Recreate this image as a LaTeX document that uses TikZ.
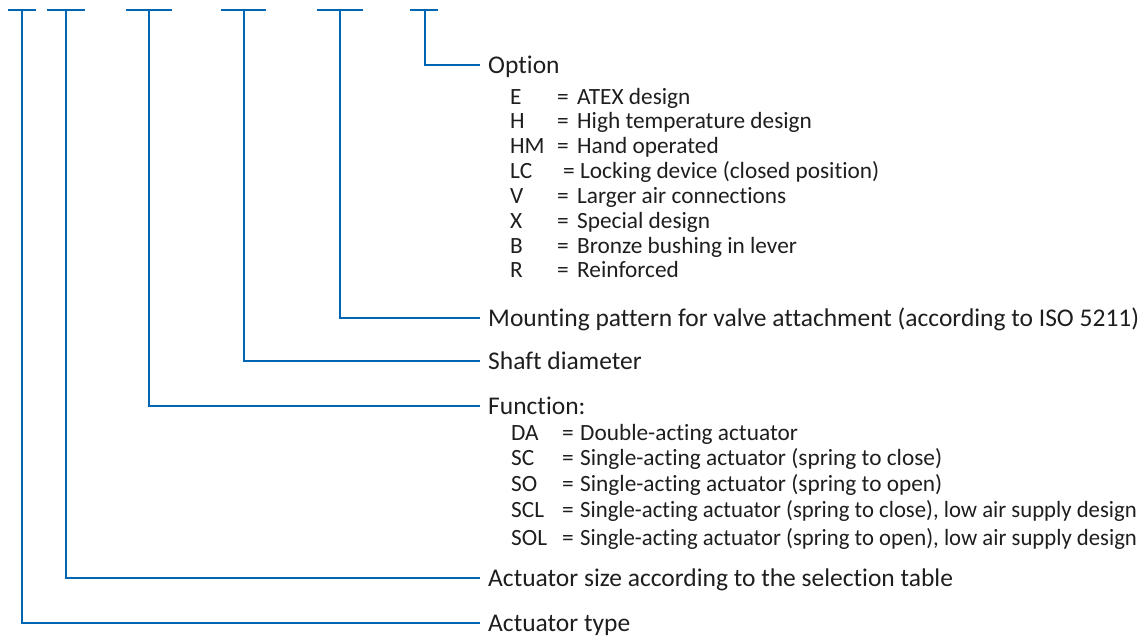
\documentclass[tikz,border=0pt]{standalone}
\usepackage{fontspec}
\usepackage{graphicx}
\setmainfont{Carlito}[Ligatures={NoCommon}]
\definecolor{lineblue}{HTML}{0066B3}
\definecolor{txtgray}{HTML}{1E1E1E}
\tikzset{
  conn/.style={lineblue,line width=2pt},
  topbar/.style={lineblue,line width=2pt},
  lbl/.style={anchor=west,inner sep=0pt,text=txtgray,text height=16.4pt,text depth=0pt,font=\fontsize{25.5}{25.5}\selectfont},
  itm/.style={anchor=west,inner sep=0pt,text=txtgray,text height=15pt,text depth=0pt,font=\fontsize{23.3}{23.3}\selectfont},
}
\newcommand{\optrow}[2]{\makebox[47pt][l]{#1}\makebox[20pt][l]{=}#2}
\newcommand{\optrowlc}[2]{\makebox[53pt][l]{#1}\makebox[17pt][l]{=}#2}
\newcommand{\funrow}[2]{\makebox[51pt][l]{#1}\makebox[18pt][l]{=}#2}
\begin{document}
\begin{tikzpicture}[x=1pt,y=-1pt]
\useasboundingbox (0,0) rectangle (1139,637);
% top bars
\draw[topbar] (8,10) -- (36,10);
\draw[topbar] (47,10) -- (85,10);
\draw[topbar] (126,10) -- (172,10);
\draw[topbar] (221,10) -- (266,10);
\draw[topbar] (317,10) -- (363,10);
\draw[topbar] (410,10) -- (438,10);
\coordinate (t1) at (22,10);
\coordinate (t2) at (66,10);
\coordinate (t3) at (149,10);
\coordinate (t4) at (244,10);
\coordinate (t5) at (340,10);
\coordinate (t6) at (425,10);
% labels
\node[lbl] (l6) at (488,65) {Option};
\node[lbl] (l5) at (488,318) {Mounting pattern for valve attachment (according to ISO 5211)};
\node[lbl] (l4) at (488,361) {Shaft diameter};
\node[lbl] (l3) at (488,406) {Function:};
\node[lbl] (l2) at (488,578) {Actuator size according to the selection table};
\node[lbl] (l1) at (488,623) {Actuator type};
% connectors
\foreach \i in {1,...,6}{
  \draw[conn] (t\i) |- ([xshift=-8pt]l\i.west);
}
% option items
\node[itm] (oE) at (510,97) {\optrow{E}{ATEX design}};
\node[itm] (oH) at (510,121) {\optrow{H}{High temperature design}};
\node[itm] (oHM) at (510,146) {\optrow{HM}{Hand operated}};
\node[itm] (oLC) at (510,171) {\optrowlc{LC}{Locking device (closed position)}};
\node[itm] (oV) at (510,196) {\optrow{V}{Larger air connections}};
\node[itm] (oX) at (510,221) {\optrow{X}{Special design}};
\node[itm] (oB) at (510,246) {\optrow{B}{Bronze bushing in lever}};
\node[itm] (oR) at (510,270) {\optrow{R}{Reinforced}};
% function items
\node[itm] (fDA) at (511,433) {\funrow{DA}{Double-acting actuator}};
\node[itm] (fSC) at (511,458) {\funrow{SC}{Single-acting actuator (spring to close)}};
\node[itm] (fSO) at (511,484) {\funrow{SO}{Single-acting actuator (spring to open)}};
\node[itm] (fSCL) at (511,510) {\funrow{SCL}{\scalebox{0.975}[1]{Single-acting actuator (spring to close), low air supply design}}};
\node[itm] (fSOL) at (511,538) {\funrow{SOL}{\scalebox{0.975}[1]{Single-acting actuator (spring to open), low air supply design}}};
\end{tikzpicture}
\end{document}
